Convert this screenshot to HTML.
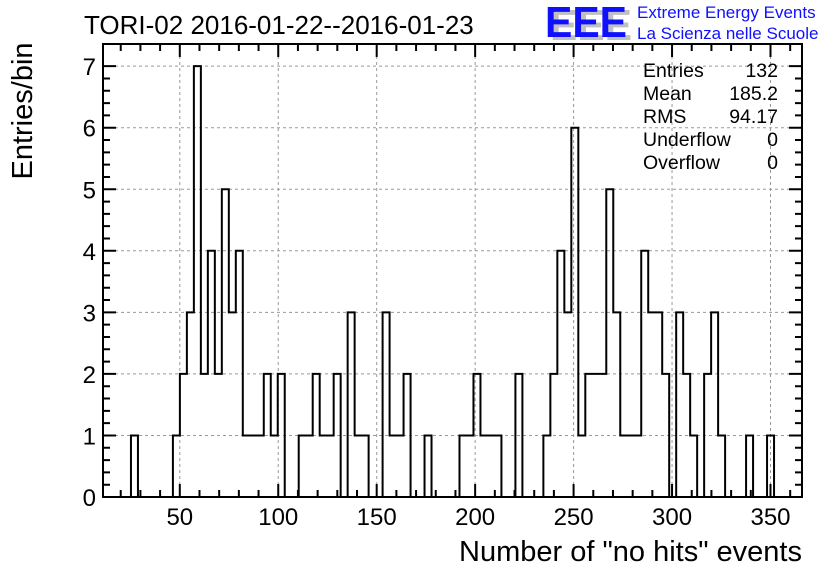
<!DOCTYPE html>
<html><head><meta charset="utf-8"><style>
body{margin:0;background:#fff;}
svg{display:block;font-family:"Liberation Sans",sans-serif;}
</style></head><body>
<svg id="chart" width="836" height="572" viewBox="0 0 836 572">
<rect width="836" height="572" fill="#fff"/>
<text x="84" y="34" font-size="26">TORI-02 2016-01-22--2016-01-23</text>
<g>
<text x="550" y="40" font-size="44" font-weight="bold" fill="#c0c0c0" textLength="82" lengthAdjust="spacingAndGlyphs">EEE</text>
<text x="545" y="37" font-size="44" font-weight="bold" fill="#1010ff" textLength="82" lengthAdjust="spacingAndGlyphs">EEE</text>
<text x="637" y="18" font-size="17" fill="#1010ff">Extreme Energy Events</text>
<text x="637" y="39" font-size="17" fill="#1010ff">La Scienza nelle Scuole</text>
</g>
<g id="grid"></g>
<g id="ticks"></g>
<path id="hist" fill="none" stroke="#000" stroke-width="2"/>
<rect x="103" y="44" width="699" height="453" fill="none" stroke="#000" stroke-width="2"/>
<g font-size="19.5">
<text x="643" y="77">Entries</text><text x="778" y="77" text-anchor="end">132</text>
<text x="643" y="100">Mean</text><text x="778" y="100" text-anchor="end">185.2</text>
<text x="643" y="123">RMS</text><text x="778" y="123" text-anchor="end">94.17</text>
<text x="643" y="146">Underflow</text><text x="778" y="146" text-anchor="end">0</text>
<text x="643" y="169">Overflow</text><text x="778" y="169" text-anchor="end">0</text>
</g>
<text x="802" y="561" font-size="29" text-anchor="end">Number of "no hits" events</text>
<text transform="translate(32,111) rotate(-90)" font-size="29" text-anchor="middle">Entries/bin</text>
</svg>
<script>
const counts = [0,0,0,0,1,0,0,0,0,0,1,2,3,7,2,4,2,5,3,4,1,1,1,2,1,2,0,0,1,1,2,1,1,2,0,3,1,1,0,0,3,1,1,2,0,0,1,0,0,0,0,1,1,2,1,1,1,0,0,2,0,0,0,1,2,4,3,6,1,2,2,2,5,3,1,1,1,4,3,3,2,0,3,2,1,0,2,3,1,0,0,0,1,0,0,1,0,0,0,0];
const xRange = [11, 366];
const yRange = [0, 7.36];
const xTickLabels = [50,100,150,200,250,300,350];
const yTickLabels = [0,1,2,3,4,5,6,7];
const L=103,R=802,T=44,B=497;
const sx=v=>L+(v-xRange[0])/(xRange[1]-xRange[0])*(R-L);
const sy=v=>B-(v-yRange[0])/(yRange[1]-yRange[0])*(B-T);
const NS='http://www.w3.org/2000/svg';
const svg=document.getElementById('chart');
const grid=document.getElementById('grid'), ticks=document.getElementById('ticks');
function mk(tag,attrs,parent){const e=document.createElementNS(NS,tag);for(const k in attrs)e.setAttribute(k,attrs[k]);parent.appendChild(e);return e;}
xTickLabels.forEach(v=>{
  const g=mk('line',{x1:sx(v),x2:sx(v),y1:T,y2:B,stroke:'#999','stroke-dasharray':'3,3','stroke-width':1},grid);
  
  
  const t=mk('text',{x:sx(v),y:525,'font-size':24,'text-anchor':'middle'},svg);
  t.textContent=v;
  
  
});
yTickLabels.forEach(v=>{
  if(v>0){const g=mk('line',{x1:L,x2:R,y1:sy(v),y2:sy(v),stroke:'#999','stroke-dasharray':'3,3','stroke-width':1},grid);
  
  }
  const t=mk('text',{x:96,y:sy(v)+9,'font-size':24,'text-anchor':'end'},svg);
  t.textContent=v;
  
  
});
let d='';
for(let v=20;v<=360;v+=10){const len=(v%50===0)?13:7;
  d+=`M${sx(v)},${B}v${-len}M${sx(v)},${T}v${len}`;}
for(let v=0;v<=7.2;v+=0.2){const r=Math.round(v*5)%5===0;const len=r?13:7;
  d+=`M${L},${sy(v)}h${len}M${R},${sy(v)}h${-len}`;}
const tp=mk('path',{d:d,stroke:'#000','stroke-width':2,fill:'none'},ticks);


const w=(xRange[1]-xRange[0])/counts.length;
let h=`M${sx(xRange[0])},${sy(0)}`;
counts.forEach((c,i)=>{const x0=xRange[0]+i*w;h+=`L${sx(x0)},${sy(c)}L${sx(x0+w)},${sy(c)}`;});
h+=`L${sx(xRange[1])},${sy(0)}`;
document.getElementById('hist').setAttribute('d',h);
</script>
</body></html>
